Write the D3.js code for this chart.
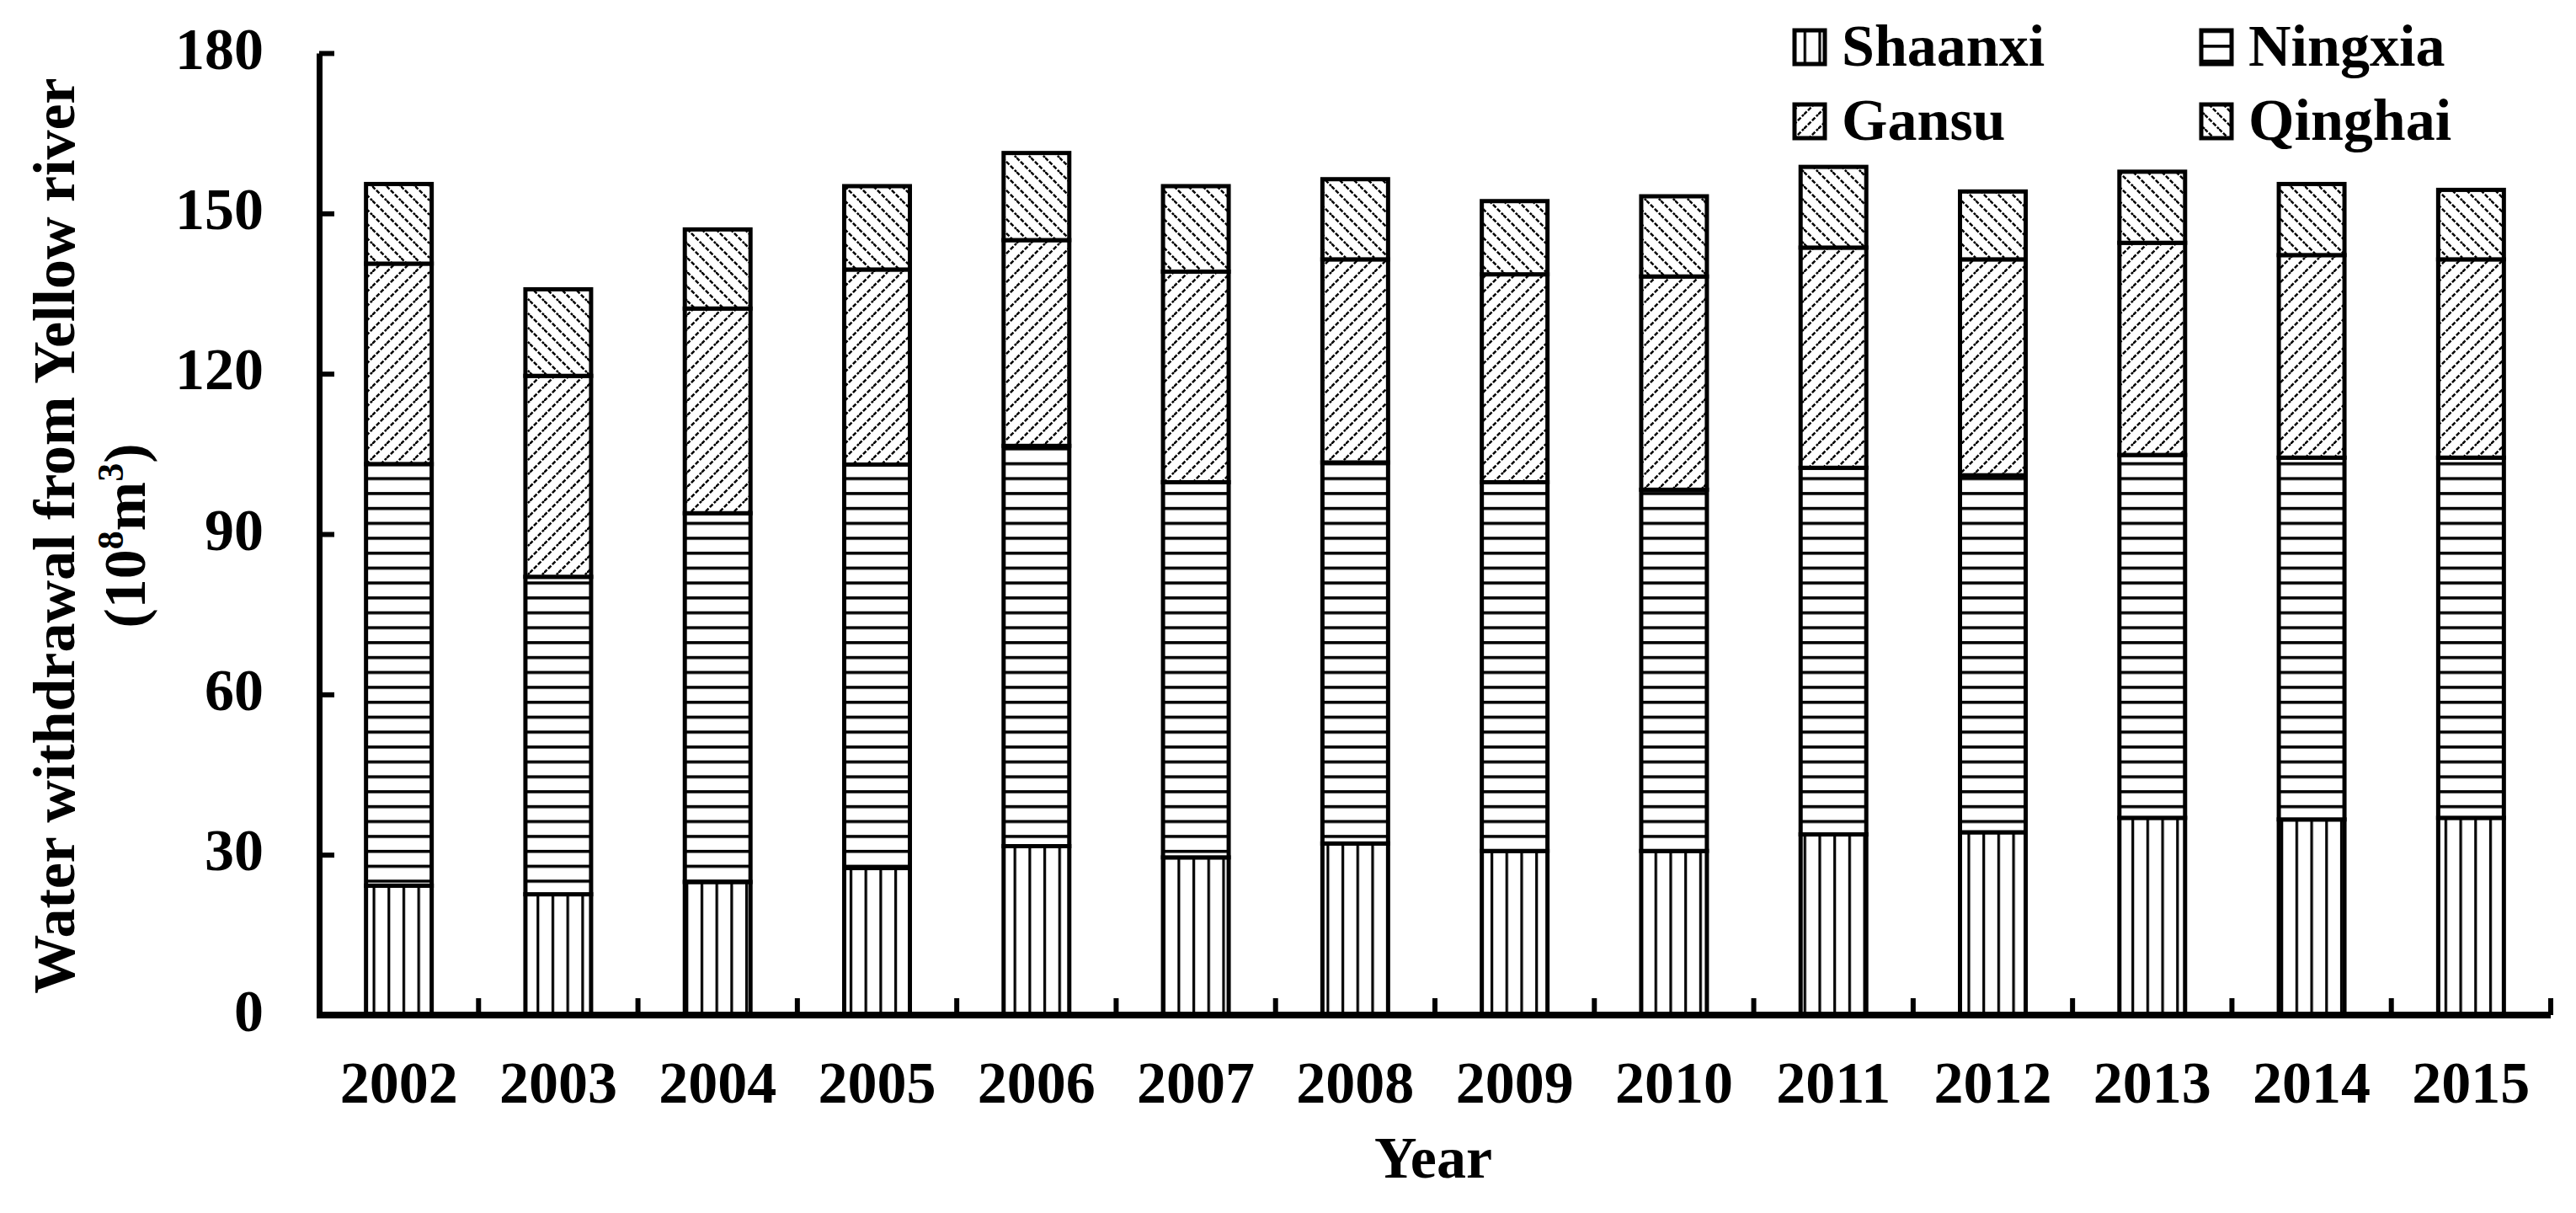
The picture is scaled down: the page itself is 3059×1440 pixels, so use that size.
<!DOCTYPE html>
<html>
<head>
<meta charset="utf-8">
<script src="https://cdn.jsdelivr.net/npm/d3@7"></script>
<style>
  html, body { margin: 0; padding: 0; background: #fff; }
  svg { display: block; }
  text { font-family: "Liberation Serif", "Times New Roman", serif; font-weight: bold; fill: #000; }
</style>
</head>
<body>
<svg id="chart" width="3059" height="1440"></svg>
<script>
// ---------------- data ----------------
const years = ["2002","2003","2004","2005","2006","2007","2008","2009","2010","2011","2012","2013","2014","2015"];
const seriesNames = ["Shaanxi","Ningxia","Gansu","Qinghai"];
const shaanxi = [24.2, 22.6, 24.9, 27.5, 31.6, 29.5, 32.1, 30.7, 30.7, 33.8, 34.2, 36.9, 36.6, 36.9];
const ningxia = [78.9, 59.4, 69.0, 75.5, 74.9, 70.2, 71.3, 69.0, 67.6, 68.6, 66.8, 67.9, 67.7, 67.4];
const gansu   = [37.5, 37.6, 38.3, 36.5, 38.5, 39.4, 38.0, 38.9, 39.9, 41.2, 40.4, 39.7, 37.9, 37.1];
const qinghai = [14.9, 16.2, 14.8, 15.6, 16.3, 16.0, 15.0, 13.7, 15.0, 15.1, 12.7, 13.3, 13.3, 13.0];
const yTicks = [0, 30, 60, 90, 120, 150, 180];
const yTitle = "Water withdrawal from Yellow river";
const xTitle = "Year";

(function () {
const FONT = "'Liberation Serif', 'Times New Roman', serif";
// --------------- layout ---------------
const W = 3059, H = 1440;
const pLeft = 379, pRight = 3029, pTop = 63, pBottom = 1205;

const svg = d3.select("#chart");
svg.append("rect").attr("width", W).attr("height", H).attr("fill", "#fff");

// --------------- patterns ---------------
const defs = svg.append("defs");
const S = 17.7;
// Shaanxi: vertical lines
const pV = defs.append("pattern").attr("id", "p0").attr("patternUnits", "userSpaceOnUse")
  .attr("width", S).attr("height", S);
pV.append("rect").attr("width", S).attr("height", S).attr("fill", "#fff");
pV.append("rect").attr("x", 0).attr("y", 0).attr("width", 3.2).attr("height", S).attr("fill", "#000");
// Ningxia: horizontal lines
const pH = defs.append("pattern").attr("id", "p1").attr("patternUnits", "userSpaceOnUse")
  .attr("width", S).attr("height", S);
pH.append("rect").attr("width", S).attr("height", S).attr("fill", "#fff");
pH.append("rect").attr("x", 0).attr("y", 0).attr("width", S).attr("height", 3.6).attr("fill", "#000");
// Gansu: "/" diagonals
const D = 17;
const pG = defs.append("pattern").attr("id", "p2").attr("patternUnits", "userSpaceOnUse")
  .attr("width", D).attr("height", D);
pG.append("rect").attr("width", D).attr("height", D).attr("fill", "#fff");
pG.append("path").attr("d", `M${-D/2},${D/2} L${D/2},${-D/2} M0,${D} L${D},0 M${D/2},${D*1.5} L${D*1.5},${D/2}`)
  .attr("stroke", "#000").attr("stroke-width", 2.5).attr("stroke-dasharray", "5,2");
// Qinghai: "\" diagonals
const pQ = defs.append("pattern").attr("id", "p3").attr("patternUnits", "userSpaceOnUse")
  .attr("width", D).attr("height", D);
pQ.append("rect").attr("width", D).attr("height", D).attr("fill", "#fff");
pQ.append("path").attr("d", `M${-D/2},${D/2} L${D/2},${D*1.5} M0,0 L${D},${D} M${D/2},${-D/2} L${D*1.5},${D/2}`)
  .attr("stroke", "#000").attr("stroke-width", 2.5).attr("stroke-dasharray", "5,2");

// --------------- scales ---------------
const x = d3.scaleBand().domain(years).range([pLeft, pRight]).paddingInner(0.588).paddingOuter(0.294);
const y = d3.scaleLinear().domain([0, 180]).range([pBottom, pTop]);

const table = years.map((yr, i) => ({
  year: yr, Shaanxi: shaanxi[i], Ningxia: ningxia[i], Gansu: gansu[i], Qinghai: qinghai[i]
}));
const stacked = d3.stack().keys(seriesNames)(table);

// --------------- bars ---------------
const gBars = svg.append("g");
stacked.forEach((layer, si) => {
  gBars.append("g").selectAll("rect").data(layer).join("rect")
    .attr("x", d => x(d.data.year))
    .attr("y", d => y(d[1]))
    .attr("width", x.bandwidth())
    .attr("height", d => y(d[0]) - y(d[1]))
    .attr("fill", `url(#p${si})`)
    .attr("stroke", "#000")
    .attr("stroke-width", 5);
});

// --------------- axes ---------------
const yAxis = d3.axisLeft(y).tickValues(yTicks).tickSize(-18).tickSizeOuter(0).tickPadding(66);
const gy = svg.append("g").attr("transform", `translate(${pLeft},0)`).call(yAxis);
gy.attr("font-family", FONT);
gy.select(".domain").attr("stroke", "#000").attr("stroke-width", 7);
gy.selectAll(".tick line").attr("stroke", "#000").attr("stroke-width", 6);
gy.selectAll(".tick text").attr("font-size", 70).attr("dy", "0.26em")
  .attr("font-family", FONT).attr("font-weight", "bold");

const xAxis = d3.axisBottom(x).tickSize(0).tickSizeOuter(0).tickPadding(0);
const gx = svg.append("g").attr("transform", `translate(0,${pBottom})`).call(xAxis);
gx.attr("font-family", FONT);
gx.select(".domain").attr("stroke", "#000").attr("stroke-width", 8)
  .attr("d", `M${pLeft - 3},0H${pRight}`);
gx.selectAll(".tick text").attr("font-size", 70).attr("y", 104).attr("dy", 0)
  .attr("font-family", FONT).attr("font-weight", "bold");

// category boundary ticks (pointing up into the plot)
const boundaries = years.map(yr => x(yr) + x.bandwidth() + x.step() * x.paddingInner() / 2);
svg.append("g").selectAll("line").data(boundaries).join("line")
  .attr("x1", d => d).attr("x2", d => d)
  .attr("y1", pBottom).attr("y2", pBottom - 20)
  .attr("stroke", "#000").attr("stroke-width", 6);

// --------------- titles ---------------
const cy = (pTop + pBottom) / 2 + 2;
svg.append("text")
  .attr("transform", `translate(88,${cy}) rotate(-90)`)
  .attr("text-anchor", "middle").attr("font-size", 70).attr("font-family", FONT)
  .text(yTitle);
const t2 = svg.append("text")
  .attr("transform", `translate(172,${cy}) rotate(-90)`)
  .attr("text-anchor", "middle").attr("font-size", 70).attr("font-family", FONT);
t2.append("tspan").text("(10");
t2.append("tspan").attr("font-size", 44).attr("dy", -26).text("8");
t2.append("tspan").attr("dy", 26).text("m");
t2.append("tspan").attr("font-size", 44).attr("dy", -26).text("3");
t2.append("tspan").attr("dy", 26).text(")");

svg.append("text").attr("x", 1702).attr("y", 1398).attr("text-anchor", "middle")
  .attr("font-size", 70).attr("font-family", FONT).text(xTitle);

// --------------- legend ---------------
const legendPos = [
  { mx: 2131, tx: 2187, base: 78 },
  { mx: 2614, tx: 2670, base: 78 },
  { mx: 2131, tx: 2187, base: 166 },
  { mx: 2614, tx: 2670, base: 166 }
];
const gLeg = svg.append("g");
seriesNames.forEach((name, i) => {
  const p = legendPos[i];
  gLeg.append("rect").attr("x", p.mx).attr("y", p.base - 42).attr("width", 36).attr("height", 40)
    .attr("fill", `url(#p${i})`).attr("stroke", "#000").attr("stroke-width", 5);
  gLeg.append("text").attr("x", p.tx).attr("y", p.base).attr("font-size", 70)
    .attr("font-family", FONT).text(name);
});
})();
</script>
</body>
</html>
